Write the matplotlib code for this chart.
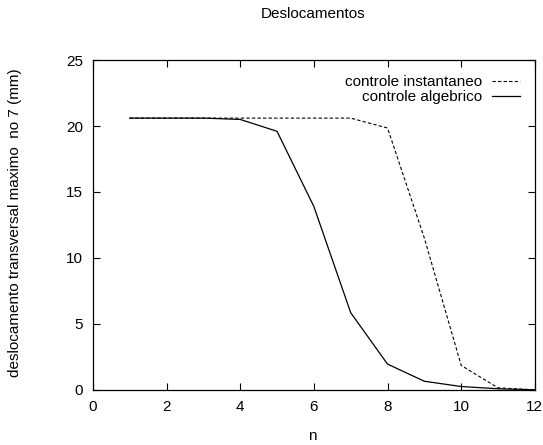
import matplotlib
matplotlib.use('Agg')
import matplotlib.pyplot as plt

plt.rcParams['font.family'] = ['Liberation Sans', 'DejaVu Sans']
plt.rcParams['font.size'] = 11

n = [1, 2, 3, 4, 5, 6, 7, 8, 9, 10, 11, 12]
instantaneo = [20.6, 20.6, 20.6, 20.6, 20.6, 20.6, 20.6, 19.85, 11.5, 1.85, 0.15, 0.0]
algebrico = [20.6, 20.6, 20.6, 20.5, 19.6, 13.9, 5.85, 1.95, 0.65, 0.25, 0.08, 0.0]

fig = plt.figure(figsize=(5.43, 4.45), dpi=100)
ax = fig.add_axes([0.171, 0.124, 0.814, 0.741])

ax.plot(n, instantaneo, color='black', lw=0.8, ls=(0, (3, 2)), label='controle instantaneo')
ax.plot(n, algebrico, color='black', lw=0.9, label='controle algebrico')

ax.set_xlim(0, 12)
ax.set_ylim(0, 25)
ax.set_xticks(range(0, 13, 2))
ax.set_yticks(range(0, 26, 5))
ax.tick_params(direction='in', top=True, right=True, length=5, width=0.8, pad=7)
for s in ax.spines.values():
    s.set_linewidth(0.9)

fig.text(0.576, 0.969, 'Deslocamentos', ha='center', va='center')
fig.text(0.576, 0.02, 'n', ha='center', va='center')
fig.text(0.028, 0.5, 'deslocamento transversal maximo  no 7 (mm)', ha='center', va='center',
         rotation=90)

ax.legend(loc='upper right', bbox_to_anchor=(0.966, 0.955), frameon=False, markerfirst=False,
          handlelength=1.8, labelspacing=0.08, borderaxespad=0, borderpad=0, handletextpad=0.7)

fig.savefig('out.png', dpi=100)
